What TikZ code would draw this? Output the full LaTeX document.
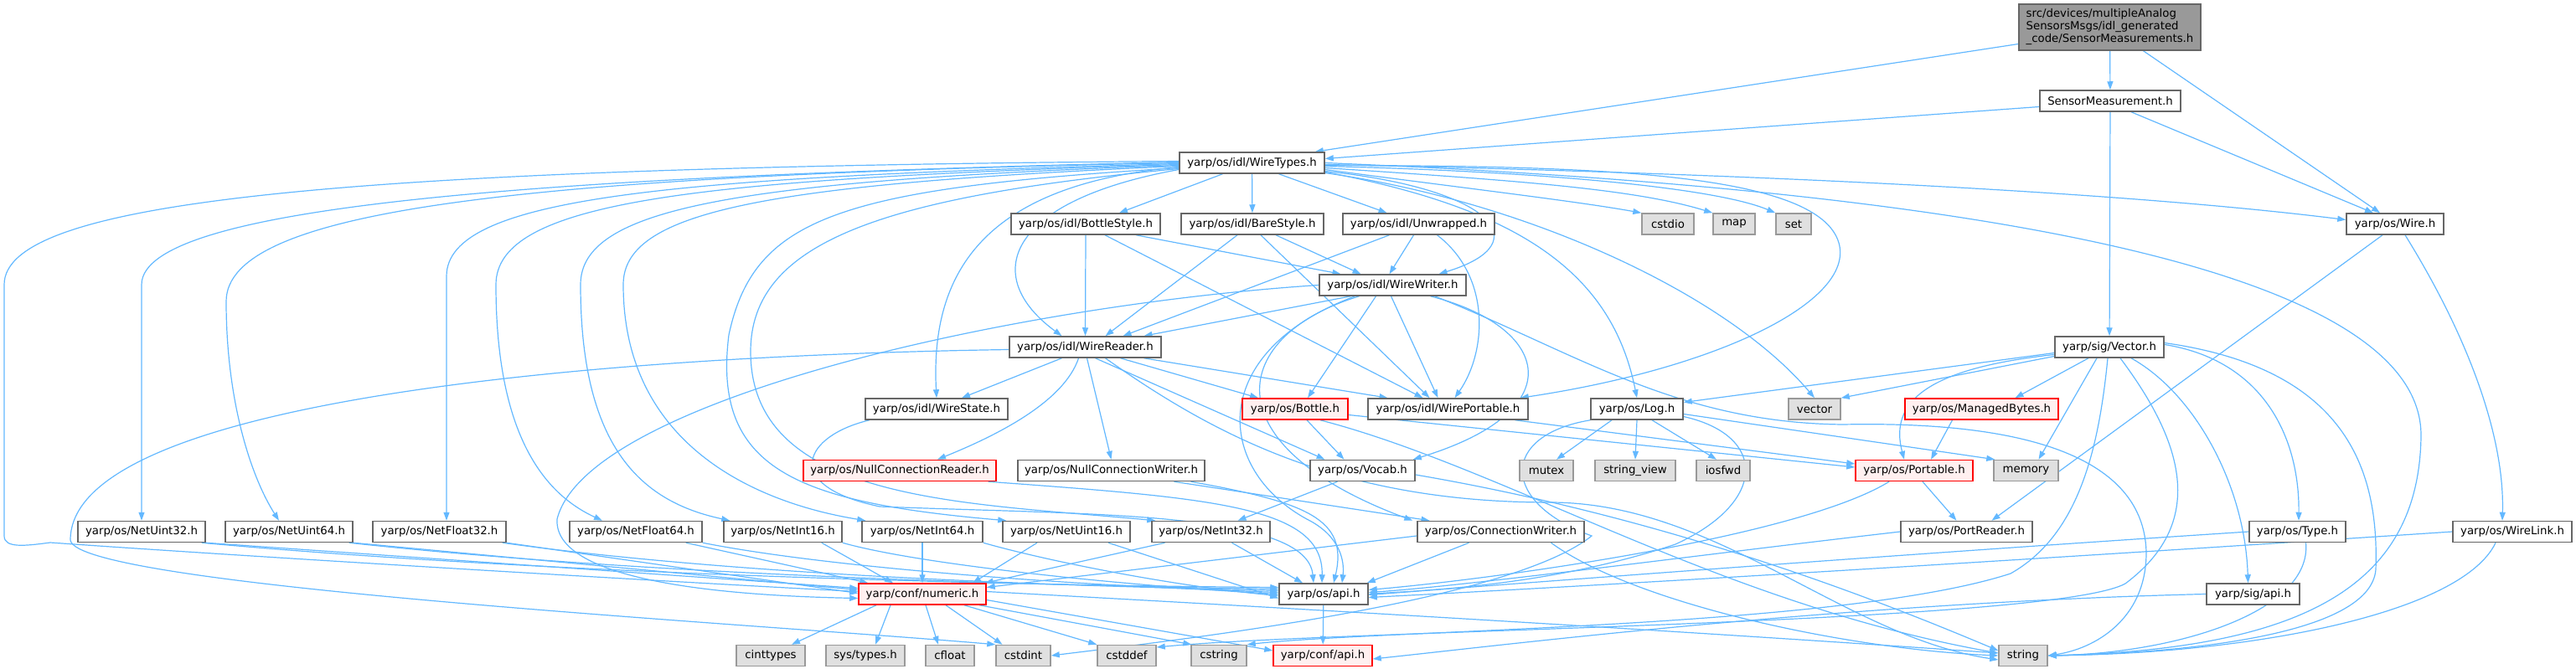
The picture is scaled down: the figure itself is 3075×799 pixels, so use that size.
\documentclass[tikz,border=0pt]{standalone}
\usepackage{fontspec}
\setmainfont{DejaVu Sans}
\usetikzlibrary{arrows.meta}
\definecolor{edgec}{HTML}{63B8FF}
\definecolor{bordc}{HTML}{666666}
\definecolor{grayfill}{HTML}{E0E0E0}
\definecolor{grayb}{HTML}{999999}
\definecolor{redfill}{HTML}{FFF0F0}
\definecolor{mainfill}{HTML}{999999}
\pgfdeclarelayer{bg}
\pgfsetlayers{bg,main}
\begin{document}
\begin{tikzpicture}[x=1pt,y=-1pt,
 nd/.style={draw=bordc, fill=white, line width=1.5pt, minimum height=25pt, inner sep=0pt, font=\fontsize{13.3}{15}\selectfont},
 sys/.style={nd, draw=grayb, fill=grayfill},
 rd/.style={nd, draw=red, fill=redfill},
 ed/.style={draw=edgec, line width=1.2pt, -{Triangle[length=10pt,width=7pt]}}
]
\useasboundingbox (0,0) rectangle (3075,799);
% nodes
\node[nd,fill=mainfill,minimum width=217pt,minimum height=55pt,align=left] (main) at (2518.5,32.5) {src/devices/multipleAnalog\\SensorsMsgs/idl\_generated\\\_code/SensorMeasurements.h};
\node[nd,minimum width=168pt] (SM) at (2519,120.5) {SensorMeasurement.h};
\node[nd,minimum width=173pt] (WT) at (1494.5,194.5) {yarp/os/idl/WireTypes.h};
\node[nd,minimum width=178pt] (BS) at (1296,267.5) {yarp/os/idl/BottleStyle.h};
\node[nd,minimum width=170pt] (BaS) at (1495,267.5) {yarp/os/idl/BareStyle.h};
\node[nd,minimum width=181pt] (UW) at (1693.5,267.5) {yarp/os/idl/Unwrapped.h};
\node[sys,minimum width=62pt] (cstdio) at (1991,267.5) {cstdio};
\node[sys,minimum width=50pt] (map) at (2070,267.5) {map};
\node[sys,minimum width=42pt] (set) at (2141,267.5) {set};
\node[nd,minimum width=116pt] (Wire) at (2859,267.5) {yarp/os/Wire.h};
\node[nd,minimum width=175pt] (WW) at (1662.5,340.5) {yarp/os/idl/WireWriter.h};
\node[nd,minimum width=181pt] (WR) at (1295.5,414.5) {yarp/os/idl/WireReader.h};
\node[nd,minimum width=130pt] (Vec) at (2518,414.5) {yarp/sig/Vector.h};
\node[nd,minimum width=170pt] (WS) at (1118,488.5) {yarp/os/idl/WireState.h};
\node[rd,minimum width=126pt] (Bot) at (1546,488.5) {yarp/os/Bottle.h};
\node[nd,minimum width=191pt] (WP) at (1728.5,488.5) {yarp/os/idl/WirePortable.h};
\node[nd,minimum width=110pt] (Log) at (1954,488.5) {yarp/os/Log.h};
\node[sys,minimum width=62pt] (vector) at (2166,488.5) {vector};
\node[rd,minimum width=183pt] (MB) at (2365.5,488.5) {yarp/os/ManagedBytes.h};
\node[rd,minimum width=230pt] (NCR) at (1074,562) {yarp/os/NullConnectionReader.h};
\node[nd,minimum width=223pt] (NCW) at (1326.5,562) {yarp/os/NullConnectionWriter.h};
\node[nd,minimum width=125pt] (Voc) at (1626.5,562) {yarp/os/Vocab.h};
\node[sys,minimum width=64pt] (mutex) at (1846,562) {mutex};
\node[sys,minimum width=96pt] (sv) at (1952,562) {string\_view};
\node[sys,minimum width=64pt] (iosfwd) at (2057,562) {iosfwd};
\node[rd,minimum width=140pt] (Port) at (2285,562) {yarp/os/Portable.h};
\node[sys,minimum width=77pt] (memory) at (2418.5,562) {memory};
\node[nd,minimum width=152pt] (NU32) at (169,635) {yarp/os/NetUint32.h};
\node[nd,minimum width=152pt] (NU64) at (345,635) {yarp/os/NetUint64.h};
\node[nd,minimum width=159pt] (NF32) at (524.5,635) {yarp/os/NetFloat32.h};
\node[nd,minimum width=158pt] (NF64) at (759,635) {yarp/os/NetFloat64.h};
\node[nd,minimum width=141pt] (NI16) at (934.5,635) {yarp/os/NetInt16.h};
\node[nd,minimum width=144pt] (NI64) at (1101,635) {yarp/os/NetInt64.h};
\node[nd,minimum width=152pt] (NU16) at (1273,635) {yarp/os/NetUint16.h};
\node[nd,minimum width=141pt] (NI32) at (1445.5,635) {yarp/os/NetInt32.h};
\node[nd,minimum width=199pt] (CW) at (1791.5,635) {yarp/os/ConnectionWriter.h};
\node[nd,minimum width=157pt] (PR) at (2347.5,635) {yarp/os/PortReader.h};
\node[nd,minimum width=115pt] (Type) at (2742.5,635) {yarp/os/Type.h};
\node[nd,minimum width=142pt] (WL) at (2999,635) {yarp/os/WireLink.h};
\node[rd,minimum width=152pt] (num) at (1101,709.5) {yarp/conf/numeric.h};
\node[nd,minimum width=106pt] (osapi) at (1580,709.5) {yarp/os/api.h};
\node[nd,minimum width=111pt] (sigapi) at (2689.5,709.5) {yarp/sig/api.h};
\node[sys,minimum width=82pt] (cint) at (920,783) {cinttypes};
\node[sys,minimum width=94pt] (systypes) at (1033,783) {sys/types.h};
\node[sys,minimum width=58pt] (cfloat) at (1134,783) {cfloat};
\node[sys,minimum width=65pt] (cstdint) at (1221.5,783) {cstdint};
\node[sys,minimum width=70pt] (cstddef) at (1345,783) {cstddef};
\node[sys,minimum width=66pt] (cstring) at (1455,783) {cstring};
\node[rd,minimum width=118pt] (confapi) at (1579,783) {yarp/conf/api.h};
\node[sys,minimum width=58pt] (string) at (2415,783) {string};
\begin{pgfonlayer}{bg}
% main
\draw[ed] ([yshift=-20]main.west) -- ([xshift=-12]WT.north east);
\draw[ed] (main) -- (SM);
\draw[ed] ([xshift=40]main.south) -- ([xshift=-18]Wire.north);
% SensorMeasurement
\draw[ed] ([yshift=-7]SM.west) -- ([yshift=5]WT.east);
\draw[ed] ([xshift=25]SM.south) -- ([xshift=-26]Wire.north);
\draw[ed] (SM) -- (Vec);
% WireTypes
\draw[ed] ([xshift=-35]WT.south) -- ([xshift=40]BS.north);
\draw[ed] (WT) -- (BaS);
\draw[ed] ([xshift=32]WT.south) -- ([xshift=-38]UW.north);
\draw[ed] ([yshift=-8]WT.east) .. controls (1750,225) and (1880,240) .. (cstdio.north west);
\draw[ed] ([yshift=-6]WT.east) .. controls (1800,215) and (1950,225) .. (map.north west);
\draw[ed] ([yshift=-4]WT.east) .. controls (1850,205) and (2050,225) .. (set.north west);
\draw[ed] ([yshift=-2]WT.east) .. controls (2000,205) and (2500,225) .. ([yshift=5]Wire.west);
\draw[ed] ([yshift=-10]WT.east) .. controls (1780,225) and (1840,290) .. ([xshift=55]WW.north);
\draw[ed] ([yshift=-8]WT.west) .. controls (1200,240) and (1170,330) .. ([xshift=-28]WR.north);
\draw[ed] ([yshift=-5]WT.west) .. controls (1180,220) and (1110,320) .. (WS.north);
\draw[ed] ([yshift=-3]WT.east) .. controls (1900,198) and (2170,205) .. (2195,290) .. controls (2215,360) and (2050,440) .. ([xshift=-10]WP.north east);
\draw[ed] ([yshift=-11]WT.east) .. controls (1820,250) and (1925,330) .. (Log.north);
\draw[ed] ([yshift=-12]WT.east) .. controls (1820,240) and (2060,350) .. (vector.north);
\draw[ed] (WT.east) .. controls (2450,230) and (2890,340) .. (2890,520) .. controls (2888,700) and (2750,775) .. (string.east);
\draw[ed] ([yshift=2]WT.west) .. controls (400,200) and (5,240) .. (5,340) -- (5,640) .. controls (5,655) and (30,652) .. (60,648) .. controls (300,665) and (800,695) .. ([yshift=3]num.west);
\draw[ed] ([yshift=1]WT.west) .. controls (700,210) and (169,240) .. (169,340) -- (NU32);
\draw[ed] (WT.west) .. controls (620,210) and (270,250) .. (270,360) .. controls (270,480) and (300,570) .. ([xshift=-12]NU64.north);
\draw[ed] ([yshift=-1]WT.west) .. controls (800,212) and (533,235) .. (533,330) -- ([xshift=8.5]NF32.north);
\draw[ed] ([yshift=-2]WT.west) .. controls (830,214) and (592,240) .. (592,340) .. controls (592,520) and (650,590) .. ([xshift=-40]NF64.north);
\draw[ed] ([yshift=-3]WT.west) .. controls (870,216) and (693,250) .. (693,340) .. controls (693,540) and (770,600) .. ([xshift=8]NI16.north west);
\draw[ed] ([yshift=-4]WT.west) .. controls (900,220) and (744,255) .. (744,340) .. controls (744,530) and (900,600) .. ([xshift=5]NI64.north west);
\draw[ed] ([yshift=-6]WT.west) .. controls (1000,225) and (900,260) .. (870,400) .. controls (850,560) and (950,600) .. ([xshift=5]NU16.north west);
\draw[ed] ([yshift=-7]WT.west) .. controls (1050,235) and (896,290) .. (896,420) .. controls (896,600) and (1150,600) .. ([xshift=5]NI32.north west);
% BottleStyle / BareStyle / Unwrapped
\draw[ed] (BS.south) -- (WR.north);
\draw[ed] ([xshift=60]BS.south) -- ([xshift=-62]WW.north);
\draw[ed] ([xshift=23]BS.south) -- ([xshift=-30]WP.north);
\draw[ed] ([xshift=-18]BaS.south) -- ([xshift=24]WR.north);
\draw[ed] ([xshift=28]BaS.south) -- ([xshift=-38]WW.north);
\draw[ed] ([xshift=10]BaS.south) -- ([xshift=-22]WP.north);
\draw[ed] ([xshift=-35]UW.south) -- ([xshift=45]WR.north);
\draw[ed] ([xshift=-6]UW.south) -- ([xshift=-4]WW.north);
\draw[ed] ([xshift=22]UW.south) .. controls (1780,330) and (1775,420) .. ([xshift=8]WP.north);
% WireWriter
\draw[ed] ([xshift=-50]WW.south) -- ([xshift=70]WR.north);
\draw[ed] (WW.west) .. controls (1200,365) and (700,480) .. (665,620) .. controls (660,700) and (900,712) .. ([yshift=-5]num.west);
\draw[ed] ([xshift=-20]WW.south) -- ([xshift=15]Bot.north);
\draw[ed] ([xshift=-2]WW.south) -- ([xshift=-12]WP.north);
\draw[ed] ([xshift=45]WW.south) .. controls (1850,390) and (1880,490) .. ([xshift=-3]Voc.north east);
\draw[ed] ([xshift=-40]WW.south) .. controls (1470,400) and (1440,530) .. ([xshift=-5]CW.north west);
\draw[ed] ([xshift=-45]WW.south) .. controls (1440,420) and (1450,560) .. (1560,620) .. controls (1600,640) and (1605,670) .. ([xshift=22]osapi.north);
\draw[ed] ([xshift=50]WW.south) .. controls (1880,420) and (2000,505) .. (2200,507) .. controls (2450,502) and (2560,560) .. (2562,660) .. controls (2562,740) and (2500,775) .. (string.east);
% WireReader
\draw[ed] ([xshift=-28]WR.south) -- ([xshift=30]WS.north);
\draw[ed] ([xshift=-8]WR.south) .. controls (1270,480) and (1190,520) .. ([xshift=45]NCR.north);
\draw[ed] ([xshift=2]WR.south) -- (NCW.north);
\draw[ed] ([xshift=12]WR.south) -- ([xshift=-45]Voc.north);
\draw[ed] ([xshift=42]WR.south) -- ([xshift=-44]Bot.north);
\draw[ed] ([xshift=70]WR.south) -- ([xshift=-72]WP.north);
\draw[ed] ([xshift=24]WR.south) .. controls (1450,520) and (1600,600) .. (1850,600) .. controls (2050,600) and (2200,760) .. ([yshift=-5]string.west);
\draw[ed] ([yshift=-3]WR.west) .. controls (700,425) and (84,480) .. (84,645) .. controls (90,700) and (900,745) .. (cstdint.north west);
% WireState, NullConnection*
\draw[ed] ([xshift=-80]WS.south) .. controls (960,520) and (930,580) .. (1050,605) .. controls (1300,615) and (1560,610) .. ([xshift=-12]osapi.north);
\draw[ed] ([xshift=-10]NCR.south east) .. controls (1450,595) and (1580,605) .. ([xshift=-2]osapi.north);
\draw[ed] ([xshift=75]NCW.south) -- ([xshift=-85]CW.north);
\draw[ed] ([xshift=95]NCW.south) .. controls (1560,600) and (1610,620) .. ([xshift=12]osapi.north);
% Bottle, WirePortable
\draw[ed] ([xshift=14]Bot.south) -- ([xshift=-22]Voc.north);
\draw[ed] ([yshift=-7]Bot.east) -- ([yshift=4]Port.west);
\draw[ed] ([xshift=30]Bot.south) .. controls (1800,560) and (2050,720) .. ([yshift=3]string.west);
\draw[ed] ([xshift=80]WP.south) -- ([yshift=8]Port.west);
% Log
\draw[ed] ([xshift=-30]Log.south) -- ([xshift=12]mutex.north);
\draw[ed] (Log.south) -- (sv.north);
\draw[ed] ([xshift=18]Log.south) -- ([xshift=-8]iosfwd.north);
\draw[ed] ([yshift=-6]Log.east) -- ([xshift=2]memory.north west);
\draw[ed] (Log.south west) .. controls (1790,520) and (1790,600) .. (1900,640) .. controls (1800,720) and (1400,765) .. (cstdint.east);
\draw[ed] ([yshift=-9]Log.east) .. controls (2110,520) and (2110,600) .. (2000,650) .. controls (1850,700) and (1700,705) .. (osapi.east);
% Vector
\draw[ed] ([yshift=-7]Vec.west) -- ([yshift=8]Log.east);
\draw[ed] ([yshift=-11]Vec.west) -- (vector.north east);
\draw[ed] ([yshift=-9]Vec.west) .. controls (2300,440) and (2255,480) .. ([xshift=-12]Port.north);
\draw[ed] ([xshift=-25]Vec.south) -- ([xshift=40]MB.north);
\draw[ed] ([xshift=-15]Vec.south) -- ([xshift=15]memory.north);
\draw[ed] ([xshift=-2]Vec.south) .. controls (2505,540) and (2480,640) .. (2400,685) .. controls (2200,750) and (1650,752) .. (cstring.north east);
\draw[ed] ([xshift=13]Vec.south) .. controls (2600,520) and (2640,620) .. (2537,697) .. controls (2450,745) and (1600,752) .. ([yshift=10]cstddef.east);
\draw[ed] ([xshift=26]Vec.south) .. controls (2620,470) and (2680,580) .. ([xshift=-6]sigapi.north);
\draw[ed] ([yshift=3]Vec.east) .. controls (2700,430) and (2745,520) .. ([xshift=1.5]Type.north);
\draw[ed] ([yshift=5]Vec.east) .. controls (2800,440) and (2840,560) .. (2836,680) .. controls (2830,760) and (2600,780) .. (string.east);
% ManagedBytes, Portable, Wire
\draw[ed] ([xshift=-35]MB.south) -- ([xshift=20]Port.north);
\draw[ed] ([xshift=10]Port.south) -- ([xshift=-12]PR.north);
\draw[ed] ([xshift=-30]Port.south) .. controls (2150,640) and (1800,690) .. ([yshift=5]osapi.east);
\draw[ed] ([xshift=-15]Wire.south) -- ([xshift=30]PR.north);
\draw[ed] ([xshift=12]Wire.south) .. controls (2945,400) and (2990,520) .. ([xshift=-12]WL.north);
% PortReader, Type, WireLink, sig/api
\draw[ed] (PR.west) .. controls (2050,660) and (1750,700) .. ([yshift=2]osapi.east);
\draw[ed] (Type.west) .. controls (2300,660) and (1900,690) .. ([yshift=-1]osapi.east);
\draw[ed] (WL.west) .. controls (2400,670) and (1900,700) .. ([yshift=-4]osapi.east);
\draw[ed] ([xshift=10]Type.south) .. controls (2760,730) and (2600,780) .. (string.east);
\draw[ed] ([xshift=-20]WL.south) .. controls (2940,730) and (2700,780) .. (string.east);
\draw[ed] (sigapi.west) .. controls (2200,720) and (1800,770) .. ([yshift=-4]confapi.east);
% Vocab, ConnectionWriter
\draw[ed] ([xshift=-30]Voc.south) -- ([xshift=32]NI32.north);
\draw[ed] ([yshift=-5]Voc.east) .. controls (2000,620) and (2250,720) .. ([yshift=6]string.west);
\draw[ed] ([xshift=-38]CW.south) -- ([xshift=-2]osapi.north east);
\draw[ed] ([yshift=-5]CW.west) -- ([yshift=8]num.east);
\draw[ed] ([xshift=60]CW.south) .. controls (1950,720) and (2200,775) .. (string.west);
% Net*
\draw[ed] (NU32.south east) -- ([yshift=7]num.west);
\draw[ed] ([xshift=-5]NU32.south east) .. controls (700,690) and (1300,700) .. ([yshift=8]osapi.west);
\draw[ed] (NU64.south east) -- ([yshift=5]num.west);
\draw[ed] ([xshift=-5]NU64.south east) .. controls (800,690) and (1300,700) .. ([yshift=6]osapi.west);
\draw[ed] (NF32.south east) -- ([yshift=1]num.west);
\draw[ed] ([xshift=-5]NF32.south east) .. controls (900,690) and (1300,700) .. ([yshift=4]osapi.west);
\draw[ed] ([xshift=-20]NF64.south east) -- ([xshift=12]num.north west);
\draw[ed] (NF64.south east) .. controls (1000,680) and (1300,700) .. ([yshift=2]osapi.west);
\draw[ed] ([xshift=-25]NI16.south east) -- ([xshift=-35]num.north);
\draw[ed] (NI16.south east) .. controls (1100,675) and (1350,700) .. (osapi.west);
\draw[ed] (NI64.south) -- (num.north);
\draw[ed] (NI64.south east) .. controls (1250,670) and (1400,700) .. ([yshift=-2]osapi.west);
\draw[ed] ([xshift=-35]NU16.south) -- ([xshift=60]num.north);
\draw[ed] ([xshift=50]NU16.south) -- ([yshift=-5]osapi.west);
\draw[ed] ([xshift=-55]NI32.south) -- ([xshift=-2]num.north east);
\draw[ed] ([xshift=25]NI32.south) -- ([xshift=-25]osapi.north);
% numeric, os/api
\draw[ed] ([xshift=-55]num.south) -- ([xshift=25]cint.north);
\draw[ed] ([xshift=-38]num.south) -- ([xshift=12]systypes.north);
\draw[ed] ([xshift=4]num.south) -- ([xshift=-14]cfloat.north);
\draw[ed] ([xshift=28]num.south) -- ([xshift=-25]cstdint.north);
\draw[ed] ([xshift=50]num.south) -- (cstddef.north west);
\draw[ed] ([xshift=68]num.south) -- ([xshift=1]cstring.north west);
\draw[ed] ([yshift=-7]num.east) -- ([yshift=6]confapi.west);
\draw[ed] ([yshift=3]num.east) .. controls (1700,735) and (2100,760) .. ([yshift=3]string.west);
\draw[ed] (osapi) -- (confapi);
\end{pgfonlayer}
\end{tikzpicture}
\end{document}
